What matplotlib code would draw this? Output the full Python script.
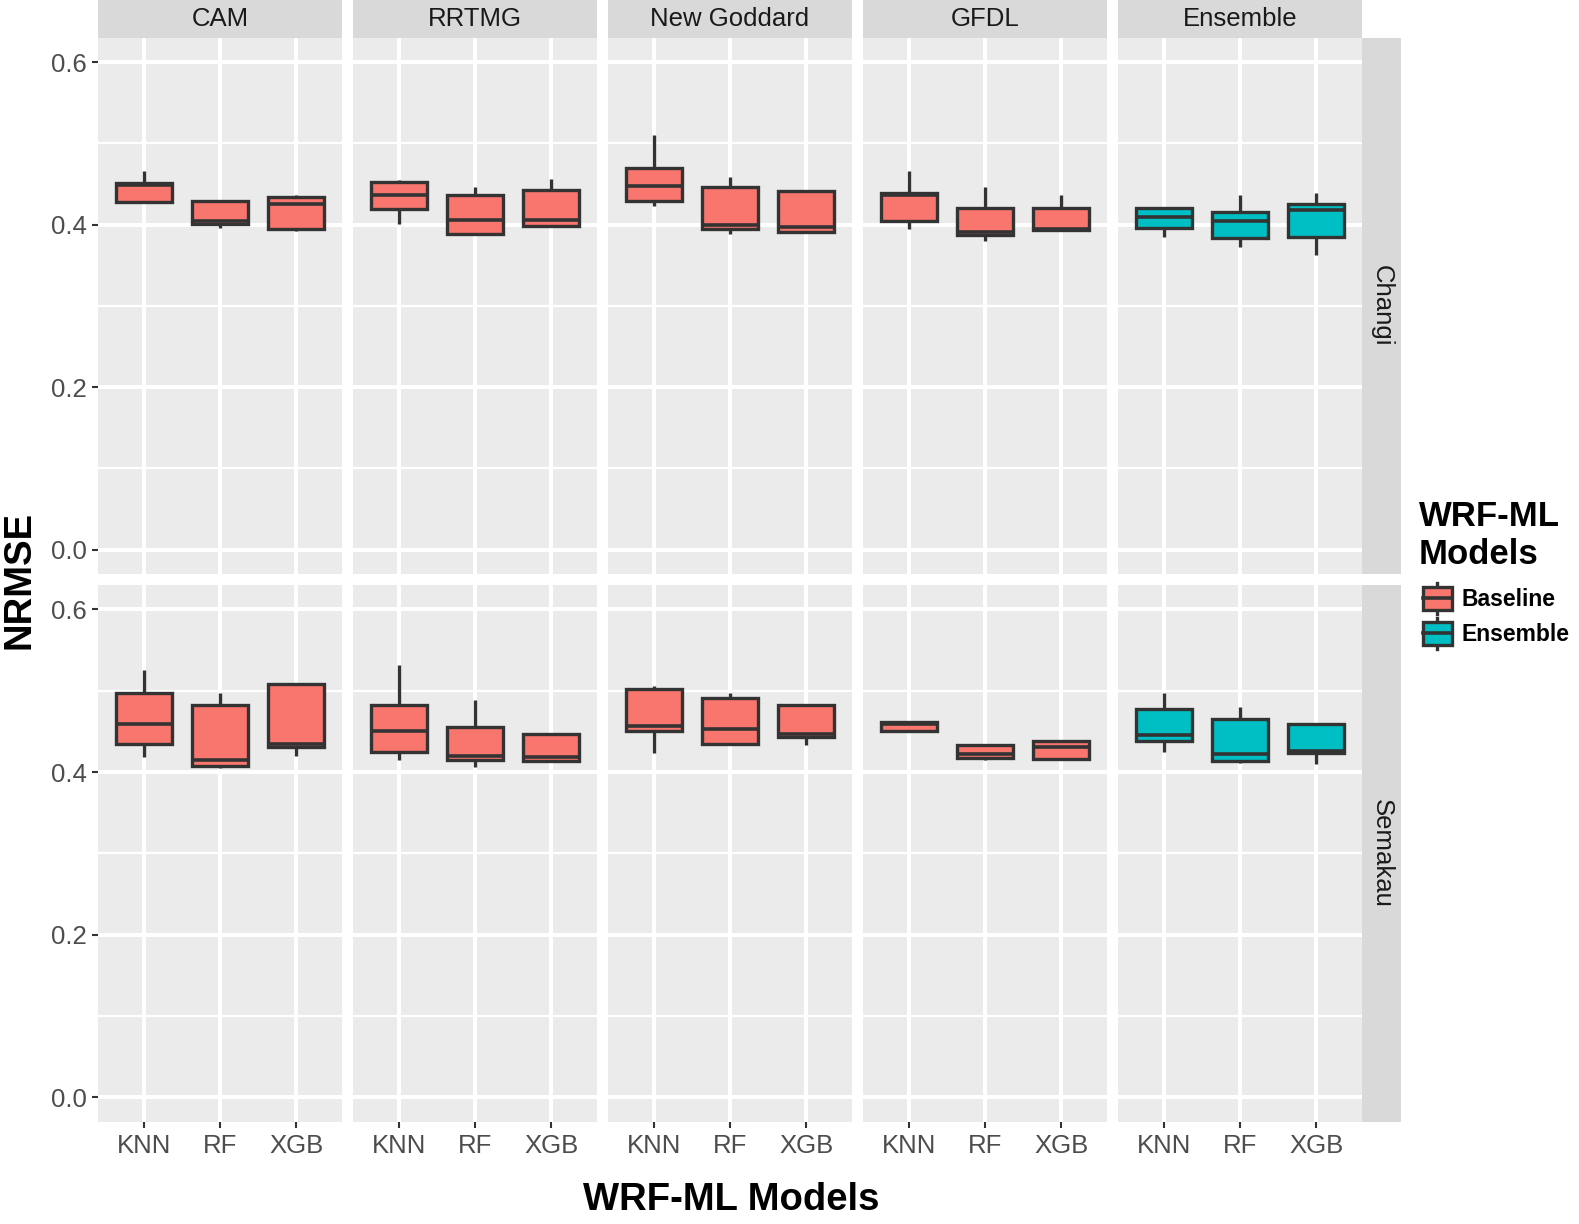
import matplotlib
matplotlib.use('Agg')
import matplotlib.pyplot as plt
from matplotlib.patches import Rectangle, Patch
from matplotlib.lines import Line2D
from matplotlib.legend_handler import HandlerBase

plt.rcParams['font.family'] = ['Liberation Sans', 'DejaVu Sans']

# facets and categories
models = ['CAM', 'RRTMG', 'New Goddard', 'GFDL', 'Ensemble']
methods = ['KNN', 'RF', 'XGB']
stations = ['Changi', 'Semakau']
model_group = ['Baseline', 'Baseline', 'Baseline', 'Baseline', 'Ensemble']

# box statistics, one row per model, one value per method (KNN, RF, XGB)
changi_lo = [[0.428, 0.396, 0.392], [0.401, 0.388, 0.397], [0.423, 0.389, 0.3905],
             [0.395, 0.380, 0.393], [0.385, 0.373, 0.363]]
changi_q1 = [[0.428, 0.401, 0.394], [0.419, 0.389, 0.398], [0.429, 0.395, 0.3905],
             [0.405, 0.387, 0.393], [0.396, 0.384, 0.385]]
changi_med = [[0.449, 0.404, 0.425], [0.436, 0.406, 0.406], [0.448, 0.400, 0.397],
              [0.436, 0.391, 0.394], [0.409, 0.404, 0.4185]]
changi_q3 = [[0.451, 0.429, 0.434], [0.452, 0.436, 0.442], [0.470, 0.446, 0.441],
             [0.4385, 0.420, 0.421], [0.420, 0.416, 0.425]]
changi_hi = [[0.466, 0.429, 0.437], [0.455, 0.446, 0.456], [0.510, 0.459, 0.441],
             [0.466, 0.446, 0.437], [0.420, 0.437, 0.4385]]

semakau_lo = [[0.419, 0.405, 0.420], [0.415, 0.4065, 0.413], [0.424, 0.434, 0.433],
              [0.451, 0.4144, 0.416], [0.425, 0.411, 0.410]]
semakau_q1 = [[0.434, 0.408, 0.431], [0.425, 0.415, 0.413], [0.451, 0.434, 0.443],
              [0.451, 0.4176, 0.416], [0.438, 0.4135, 0.424]]
semakau_med = [[0.459, 0.415, 0.435], [0.451, 0.420, 0.418], [0.4566, 0.453, 0.447],
               [0.459, 0.4218, 0.4308], [0.446, 0.4225, 0.426]]
semakau_q3 = [[0.497, 0.483, 0.508], [0.4825, 0.455, 0.447], [0.502, 0.491, 0.482],
              [0.4615, 0.4332, 0.4382], [0.477, 0.4656, 0.4587]]
semakau_hi = [[0.526, 0.497, 0.508], [0.532, 0.489, 0.447], [0.5055, 0.497, 0.482],
              [0.4615, 0.4332, 0.4382], [0.497, 0.480, 0.4587]]

station_stats = {
    'Changi': (changi_lo, changi_q1, changi_med, changi_q3, changi_hi),
    'Semakau': (semakau_lo, semakau_q1, semakau_med, semakau_q3, semakau_hi),
}
group_colors = {'Baseline': '#F8766D', 'Ensemble': '#00BFC4'}

W, H = 1579, 1224
fig = plt.figure(figsize=(W / 100, H / 100), dpi=100)


def rect(x0, y0, x1, y1):
    return [x0 / W, 1 - y1 / H, (x1 - x0) / W, (y1 - y0) / H]


col_x = [98, 353, 608, 863, 1118]
panel_w = 244
row_y = [(37.7, 574), (585, 1121.7)]
edge = '#333333'

for r, st in enumerate(stations):
    lo, q1, med, q3, hi = station_stats[st]
    y0, y1 = row_y[r]
    for c, mdl in enumerate(models):
        x0 = col_x[c]
        ax = fig.add_axes(rect(x0, y0, x0 + panel_w, y1))
        ax.set_facecolor('#EBEBEB')
        stats = []
        for k in range(3):
            stats.append(dict(whislo=lo[c][k], q1=q1[c][k], med=med[c][k],
                              q3=q3[c][k], whishi=hi[c][k], fliers=[]))
        ax.bxp(stats, positions=[1, 2, 3], widths=0.74, patch_artist=True,
               showcaps=False, showfliers=False,
               boxprops=dict(facecolor=group_colors[model_group[c]], edgecolor=edge, linewidth=2.4),
               medianprops=dict(color=edge, linewidth=2.6, solid_capstyle='butt'),
               whiskerprops=dict(color=edge, linewidth=2.4, solid_capstyle='butt'))
        ax.set_xlim(0.4, 3.6)
        ax.set_ylim(-0.03, 0.63)
        ax.set_yticks([0.0, 0.2, 0.4, 0.6])
        ax.set_yticks([0.1, 0.3, 0.5], minor=True)
        ax.set_xticks([1, 2, 3])
        ax.set_axisbelow(True)
        ax.grid(which='major', color='white', linewidth=2.9)
        ax.grid(which='minor', axis='y', color='white', linewidth=1.6)
        for s in ax.spines.values():
            s.set_visible(False)
        ax.tick_params(which='minor', length=0)
        ax.tick_params(which='major', color=edge, length=4.3, width=1.5,
                       labelsize=18.5, labelcolor='#4D4D4D')
        ax.tick_params(axis='y', pad=3.5)
        ax.tick_params(axis='x', pad=4.5)
        if c == 0:
            ax.set_yticklabels(['0.0', '0.2', '0.4', '0.6'])
        else:
            ax.tick_params(axis='y', length=0, labelleft=False)
        if r == len(stations) - 1:
            ax.set_xticklabels(methods)
        else:
            ax.tick_params(axis='x', length=0, labelbottom=False)

        # top strips
        if r == 0:
            sax = fig.add_axes(rect(x0, 0, x0 + panel_w, y0))
            sax.set_facecolor('#D9D9D9')
            sax.set_xticks([])
            sax.set_yticks([])
            for s in sax.spines.values():
                s.set_visible(False)
            sax.text(0.5, 0.5, mdl, ha='center', va='center', fontsize=18.5,
                     color='#1A1A1A', transform=sax.transAxes)

    # right strips
    sax = fig.add_axes(rect(1362, y0, 1401, y1))
    sax.set_facecolor('#D9D9D9')
    sax.set_xticks([])
    sax.set_yticks([])
    for s in sax.spines.values():
        s.set_visible(False)
    sax.text(0.5, 0.5, st, ha='center', va='center', fontsize=18.5, rotation=270,
             color='#1A1A1A', transform=sax.transAxes)

fig.text(731 / W, 1 - 1200 / H, 'WRF-ML Models', ha='center', va='center',
         fontsize=27.5, weight='bold')
fig.text(20 / W, 1 - 580 / H, 'NRMSE', ha='center', va='center', rotation=90,
         fontsize=27.5, weight='bold')


class BoxKey(HandlerBase):
    def create_artists(self, legend, orig_handle, xdescent, ydescent, width, height,
                       fontsize, trans):
        x0, y0 = -xdescent, -ydescent
        cx = x0 + width / 2
        wl = Line2D([cx, cx], [y0 + 0.05 * height, y0 + 0.95 * height], color=edge,
                    lw=2.4, transform=trans)
        bx = Rectangle((x0 + 0.08 * width, y0 + 0.17 * height), 0.84 * width, 0.66 * height,
                       facecolor=orig_handle.get_facecolor(), edgecolor=edge, lw=2.4,
                       transform=trans)
        md = Line2D([x0 + 0.08 * width, x0 + 0.92 * width], [y0 + height / 2] * 2,
                    color=edge, lw=2.6, transform=trans)
        return [wl, bx, md]


fig.text(1419 / W, 1 - 500 / H, 'WRF-ML\nModels', ha='left', va='top',
         fontsize=25, weight='bold', linespacing=1.2)

handles = [Patch(facecolor=group_colors[g], label=g) for g in ['Baseline', 'Ensemble']]
leg = fig.legend(handles=handles, handler_map={Patch: BoxKey()}, loc='upper left',
                 bbox_to_anchor=(1420 / W, 1 - 581 / H), frameon=False,
                 prop={'weight': 'bold', 'size': 16.5},
                 handlelength=1.5, handleheight=1.97, handletextpad=0.3,
                 labelspacing=0.0, borderpad=0, borderaxespad=0)

fig.savefig('out.png', dpi=100)
